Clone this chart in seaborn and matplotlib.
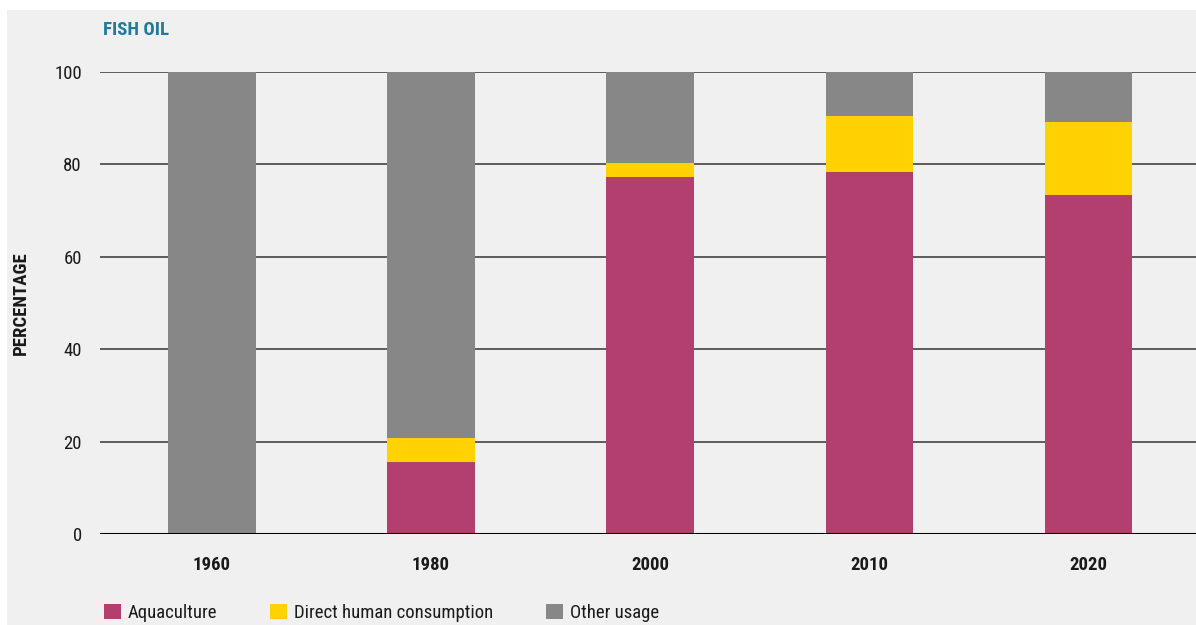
import matplotlib
matplotlib.use("Agg")
import matplotlib.pyplot as plt
from matplotlib.patches import Rectangle, Patch
from matplotlib import font_manager
import seaborn as sns
import pandas as pd
import numpy as np

# Uses of fish oil, share of total (%)
years = ["1960", "1980", "2000", "2010", "2020"]
aquaculture = [0.0, 15.6, 77.3, 78.4, 73.4]
direct_human = [0.0, 5.1, 3.1, 12.1, 15.8]
other_usage = [100.0, 79.3, 19.6, 9.5, 10.8]

series_names = ["Aquaculture", "Direct human consumption", "Other usage"]
series_colors = ["#b33f6e", "#ffd200", "#878787"]

sns.set_theme(style="white")
installed = {f.name for f in font_manager.fontManager.ttflist}
narrow = [n for n in ["Liberation Sans Narrow", "DejaVu Sans Condensed",
                      "Roboto Condensed", "Open Sans Condensed"] if n in installed]
plt.rcParams["font.family"] = narrow + ["DejaVu Sans"]
plt.rcParams["font.stretch"] = "condensed"

W, H = 1196, 625
fig = plt.figure(figsize=(W / 100, H / 100), dpi=100)
fig.patch.set_facecolor("white")
fig.add_artist(Rectangle((7 / W, 0), 1 - 7 / W, (H - 10) / H,
                         transform=fig.transFigure, facecolor="#f0f0f0",
                         edgecolor="none", zorder=0))

ax = fig.add_axes([100 / W, (H - 534) / H, 1 - 100 / W, (534 - 72) / H])
ax.set_facecolor("none")

# cumulative layers, drawn from the tallest down so each one shows its segment
a = np.array(aquaculture)
d = np.array(direct_human)
o = np.array(other_usage)
layers = [a + d + o, a + d, a]
df = pd.DataFrame({"year": years})
for heights, color in zip(layers, series_colors[::-1]):
    df["h"] = heights
    sns.barplot(data=df, x="year", y="h", order=years, color=color,
                width=0.4, saturation=1, ax=ax, zorder=2, edgecolor="none")

ax.set_ylim(0, 100)
ax.set_xlim(-0.51, 4.49)
ax.set_yticks([0, 20, 40, 60, 80, 100])
for y in [20, 40, 60, 80, 100]:
    ax.axhline(y, color="#505050", lw=1.3, zorder=1)
ax.axhline(0, color="black", lw=2.2, zorder=3)

fs = 13.5 if narrow else 11
for s in ax.spines.values():
    s.set_visible(False)
ax.tick_params(axis="y", length=0, pad=13, labelsize=fs, labelcolor="#1a1a1a")
ax.tick_params(axis="x", length=0, pad=16, labelsize=fs, labelcolor="#1a1a1a")
for t in ax.get_xticklabels():
    t.set_fontweight("bold")
ax.set_xlabel("")
ax.set_ylabel("PERCENTAGE", fontsize=fs, fontweight="bold", color="#1a1a1a")
ax.yaxis.set_label_coords(-0.064, 0.5)

fig.text(103 / W, 1 - 30 / H, "FISH OIL", fontsize=fs, fontweight="bold",
         color="#1f7a9c", ha="left", va="center")

handles = [Patch(facecolor=c, edgecolor="none") for c in series_colors]
fig.legend(handles, series_names, loc="center left",
           bbox_to_anchor=(87 / W, 1 - 613 / H), ncol=3, frameon=False,
           fontsize=fs, handlelength=0.9, handleheight=0.9,
           handletextpad=0.35, columnspacing=2.85, labelcolor="#1a1a1a")

fig.savefig("out.png", dpi=100, facecolor=fig.get_facecolor())
